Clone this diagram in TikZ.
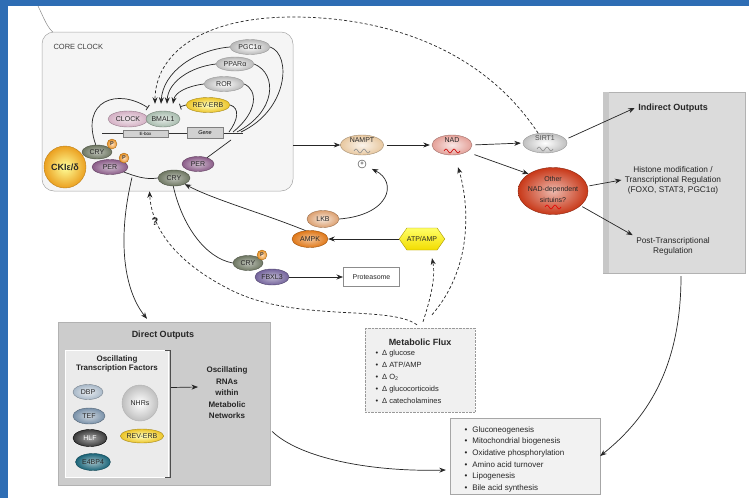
\documentclass[tikz,border=0pt]{standalone}
\usepackage{fontspec}
\setmainfont{Liberation Sans}
\usetikzlibrary{shapes.geometric,shapes.symbols,arrows.meta,calc}
\definecolor{frameblue}{HTML}{2E6DB4}
\definecolor{revy}{HTML}{ECC428}
\definecolor{clk}{HTML}{D4B0C4}
\definecolor{bml}{HTML}{A8BCAE}
\definecolor{cryc}{HTML}{6E7762}
\definecolor{perc}{HTML}{8A5C88}
\definecolor{ckc}{HTML}{EBA020}
\definecolor{pcol}{HTML}{E89020}
\definecolor{namc}{HTML}{E8C8A0}
\definecolor{nadc}{HTML}{E4A098}
\definecolor{othc}{HTML}{C83818}
\definecolor{lkbc}{HTML}{DCA070}
\definecolor{ampc}{HTML}{E07818}
\definecolor{atpc}{HTML}{F2DC00}
\definecolor{fbxc}{HTML}{74649C}
\definecolor{dbpc}{HTML}{A8B8C8}
\definecolor{tefc}{HTML}{7890A8}
\definecolor{hlfc}{HTML}{3A3A3A}
\definecolor{e4c}{HTML}{1A6478}
\begin{document}
\begin{tikzpicture}[x=1pt,y=-1pt,
  ov/.style={ellipse, inner sep=0pt, line width=0.4pt, font=\fontsize{7}{7.5}\selectfont, text=black!85},
  gry/.style={inner color=white, outer color=black!28, draw=black!40},
  arr/.style={line width=0.7pt, draw=black!85, -{Stealth[length=6.5pt,width=5pt]}},
  darr/.style={arr, dash pattern=on 3pt off 2.2pt},
  plainln/.style={line width=0.7pt, draw=black!85},
  tee/.style={line width=0.7pt, draw=black!85, -{Bar[width=6pt,line width=0.8pt]}},
  pcirc/.style={circle, inner sep=0pt, minimum size=10, inner color=orange!25, outer color=pcol, draw=pcol!70!black, line width=0.3pt, font=\fontsize{5.5}{6}\selectfont\bfseries, text=black!75},
  boxtitle/.style={font=\fontsize{9}{10}\selectfont\bfseries, text=black!85},
  boxtext/.style={font=\fontsize{8.3}{10}\selectfont, text=black!85, align=center},
  wavesym/.pic={\draw[line width=0.6pt] (-8,0) sin ++(2,-2) cos ++(2,2) sin ++(2,2) cos ++(2,-2) sin ++(2,-2) cos ++(2,2) sin ++(2,2) cos ++(2,-2);}
]
\useasboundingbox (0,0) rectangle (749,498);
\fill[white] (0,0) rectangle (749,498);
\fill[frameblue] (0,0) rectangle (749,6);
\fill[frameblue] (0,0) rectangle (8,498);
\draw[black!45, line width=0.5pt] (38,6) .. controls (44,18) and (47,28) .. (55,34);

% ---------- boxes
\node[draw=black!35, fill=black!4, rounded corners=12pt, minimum width=251, minimum height=159, line width=0.5pt] (core) at (167.5,111.5) {};
\node[anchor=west, font=\fontsize{7.5}{8}\selectfont, text=black!75] (cctitle) at (50,47) {CORE CLOCK};

\node[fill=black!14, draw=black!30, minimum width=142, minimum height=181] (ind) at (674,182.5) {};
\fill[black!22] (ind.north west) rectangle ($(ind.south west)+(6,0)$);
\node[boxtitle] (indt) at (673,108) {Indirect Outputs};
\node[boxtext] (hist) at (673,180) {Histone modification /\\Transcriptional Regulation\\(FOXO, STAT3, PGC1α)};
\node[boxtext] (post) at (673,246) {Post-Transcriptional\\Regulation};

\node[fill=black!20, draw=black!30, minimum width=212, minimum height=163] (dout) at (164,403.5) {};
\node[boxtitle] (dtitle) at (163,335) {Direct Outputs};
\node[fill=black!8, draw=white, minimum width=103, minimum height=127] (inner) at (116.5,413.5) {};
\draw[black!70, line width=0.6pt] (165,350) -- (170,350) -- (170,477) -- (165,477);
\node[font=\fontsize{8}{9.5}\selectfont\bfseries, text=black!85, align=center] (otf) at (117,364) {Oscillating\\Transcription Factors};
\node[font=\fontsize{8}{11.5}\selectfont\bfseries, text=black!85, align=center] (rna) at (227,393) {Oscillating\\RNAs\\within\\Metabolic\\Networks};

\node[fill=black!6, draw=black!40, densely dotted, minimum width=110, minimum height=84] (flux) at (420,370) {};
\node[boxtitle] (fluxt) at (420,342) {Metabolic Flux};
\node[anchor=north west, font=\fontsize{7.5}{11.8}\selectfont, text=black!85, align=left] (fluxl) at (372,347) {•\hspace{4pt}Δ glucose\\•\hspace{4pt}Δ ATP/AMP\\•\hspace{4pt}Δ O\textsubscript{2}\\•\hspace{4pt}Δ glucocorticoids\\•\hspace{4pt}Δ catecholamines};

\node[fill=black!5, draw=black!35, minimum width=150, minimum height=76] (bot) at (525,456) {};
\node[anchor=north west, font=\fontsize{8}{11.6}\selectfont, text=black!85, align=left] (botl) at (461,423) {•\hspace{5pt}Gluconeogenesis\\•\hspace{5pt}Mitochondrial biogenesis\\•\hspace{5pt}Oxidative phosphorylation\\•\hspace{5pt}Amino acid turnover\\•\hspace{5pt}Lipogenesis\\•\hspace{5pt}Bile acid synthesis};

% ---------- core clock nodes
\node[ov, gry, minimum width=40, minimum height=15] (pgc) at (250,47) {PGC1α};
\node[ov, gry, minimum width=38, minimum height=14] (ppar) at (235,64) {PPARα};
\node[ov, gry, minimum width=40, minimum height=15] (ror) at (224,84) {ROR};
\node[ov, inner color=yellow!25, outer color=revy, draw=revy!70!black, minimum width=44, minimum height=15] (rev) at (208,105) {REV-ERB};
\node[ov, inner color=clk!30, outer color=clk, draw=clk!70!black, minimum width=40, minimum height=16] (clock) at (128,119) {CLOCK};
\node[ov, inner color=bml!30, outer color=bml, draw=bml!70!black, minimum width=34, minimum height=16] (bmal) at (163,119) {BMAL1};
\coordinate (dnaL) at (102,133);
\coordinate (dnaR) at (243,133);
\draw[line width=0.7pt, black!80] (dnaL) -- (dnaR);
\node[draw=black!50, fill=black!18, minimum width=45, minimum height=7, inner sep=0pt, font=\fontsize{4.5}{5}\selectfont] (ebox) at (145.5,133.5) {E-box};
\node[draw=black!50, fill=black!18, minimum width=36, minimum height=11, inner sep=0pt, font=\fontsize{5.5}{6}\selectfont\itshape] (gene) at (205,132.5) {Gene};

\node[circle, inner sep=0pt, minimum size=42, inner color=yellow!40, outer color=ckc, draw=ckc!80!black, line width=0.4pt, font=\fontsize{9}{10}\selectfont\bfseries, text=black!85] (cki) at (65,167) {CKIε/δ};
\node[ov, inner color=cryc!45, outer color=cryc, draw=cryc!70!black, minimum width=30, minimum height=14] (cry1) at (97,152) {CRY};
\node[ov, inner color=perc!40, outer color=perc, draw=perc!70!black, minimum width=36, minimum height=15] (per1) at (110,167) {PER};
\node[pcirc] (p1) at (112,144) {P};
\node[pcirc] (p2) at (124,158) {P};
\node[ov, inner color=perc!40, outer color=perc, draw=perc!70!black, minimum width=32, minimum height=15] (per2) at (198,164) {PER};
\node[ov, inner color=cryc!45, outer color=cryc, draw=cryc!70!black, minimum width=32, minimum height=16] (cry2) at (174,178) {CRY};

% core clock connectors
\coordinate (g1) at (241,132);
\coordinate (g2) at (237,132);
\coordinate (g3) at (233,132);
\coordinate (g4) at (229,132);
\draw[plainln] (g1) .. controls (288,110) and (292,55) .. (pgc.east);
\draw[plainln] (g2) .. controls (276,112) and (278,74) .. (ppar.east);
\draw[plainln] (g3) .. controls (258,112) and (258,90) .. (ror.east);
\draw[plainln] (g4) .. controls (238,120) and (240,108) .. (rev.east);
\draw[arr] (pgc.west) .. controls (195,50) and (163,72) .. ($(bmal.north)+(-2,-7)$);
\draw[arr] (ppar.west) .. controls (190,67) and (168,82) .. ($(bmal.north)+(4,-7)$);
\draw[arr] (ror.west) .. controls (188,86) and (175,92) .. ($(bmal.north)+(10,-7)$);
\draw[tee] (rev.west) -- ($(bmal.north)+(17,-4)$);
\draw[tee] (cry1.100) .. controls (80,100) and (118,88) .. ($(bmal.north)+(-15,-3)$);
\coordinate (gout) at (231,140);
\draw[plainln] (gout) -- (per2.35);
\draw[plainln] (per1.-20) .. controls (135,176) and (145,180) .. (cry2.west);
\coordinate (pcj) at (132,177.5);

% ---------- middle nodes
\node[ov, inner color=namc!20, outer color=namc, draw=namc!70!black, minimum width=43, minimum height=20] (nampt) at (362,145) {};
\node[font=\fontsize{7}{7.5}\selectfont, text=black!85] (namptl) at (362,140.5) {NAMPT};
\pic[color=black!45] at (362,151) {wavesym};
\node[circle, draw=black!80, inner sep=0pt, minimum size=8, font=\fontsize{6}{6}\selectfont] (plus) at (362,164) {+};
\node[ov, inner color=nadc!25, outer color=nadc, draw=nadc!70!black, minimum width=40, minimum height=20] (nad) at (452,145) {};
\node[font=\fontsize{7}{7.5}\selectfont, text=black!85] (nadl) at (452,140.5) {NAD};
\pic[color=red!80!black] at (452,151) {wavesym};
\node[ov, inner color=white, outer color=black!25, draw=black!40, minimum width=44, minimum height=20] (sirt) at (545,143) {};
\node[font=\fontsize{7}{7.5}\selectfont, text=black!70] (sirtl) at (545,138.5) {SIRT1};
\pic[color=black!45] at (545,149) {wavesym};
\node[ov, inner color=othc!35, outer color=othc, draw=othc!70!black, minimum width=70, minimum height=47] (oth) at (553,191) {};
\node[font=\fontsize{7}{10.5}\selectfont, text=black!85, align=center] (othl) at (553,189) {Other\\NAD-dependent\\sirtuins?};
\pic[color=red!90!black] at (553,207) {wavesym};

\node[ov, inner color=lkbc!25, outer color=lkbc, draw=lkbc!70!black, minimum width=32, minimum height=17] (lkb) at (323,219) {LKB};
\node[ov, inner color=ampc!45, outer color=ampc, draw=ampc!70!black, minimum width=36, minimum height=17] (ampk) at (310,239) {AMPK};
\node[signal, signal to=west and east, signal pointer angle=110, inner sep=0pt, minimum width=40, minimum height=22, top color=yellow!60, bottom color=atpc, draw=atpc!70!black, line width=0.4pt, font=\fontsize{7}{7.5}\selectfont, text=black!85] (atp) at (422,239) {ATP/AMP};
\node[ov, inner color=cryc!45, outer color=cryc, draw=cryc!70!black, minimum width=30, minimum height=15] (cry3) at (248,263) {CRY};
\node[pcirc] (p3) at (262,255) {P};
\node[ov, inner color=fbxc!45, outer color=fbxc, draw=fbxc!70!black, minimum width=34, minimum height=16] (fbx) at (272,277) {FBXL3};
\node[draw=black!45, fill=white, line width=1pt, minimum width=56, minimum height=19, font=\fontsize{7}{8}\selectfont, text=black!85] (prot) at (371.5,277) {Proteasome};
\node[font=\fontsize{11}{12}\selectfont\bfseries, text=black!85] (qm) at (155,222) {?};

% ---------- direct outputs ovals
\node[ov, inner color=dbpc!25, outer color=dbpc, draw=dbpc!70!black, minimum width=30, minimum height=15] (dbp) at (88,392) {DBP};
\node[ov, inner color=tefc!35, outer color=tefc, draw=tefc!70!black, minimum width=32, minimum height=16] (tef) at (89,416) {TEF};
\node[ov, inner color=hlfc!45, outer color=hlfc, draw=black, minimum width=34, minimum height=17, text=white] (hlf) at (90,438) {HLF};
\node[ov, inner color=e4c!40, outer color=e4c, draw=e4c!70!black, minimum width=35, minimum height=17] (e4) at (93,462) {E4BP4};
\node[circle, inner sep=0pt, minimum size=36, inner color=white, outer color=black!25, draw=black!30, font=\fontsize{7}{7.5}\selectfont, text=black!85] (nhr) at (140,403) {NHRs};
\node[ov, inner color=yellow!25, outer color=revy, draw=revy!70!black, minimum width=40, minimum height=14] (rev2) at (142,436) {REV-ERB};

% ---------- connectors
\draw[arr] (core.east |- nampt.west) -- (nampt.west);
\draw[arr, shorten <=3pt, shorten >=2pt] (nampt.east) -- (nad.west);
\draw[arr, shorten <=3pt, shorten >=2pt] (nad.east) -- (sirt.west);
\draw[arr, shorten <=8pt] (nad.-25) -- (oth.145);
\draw[arr, shorten <=3pt] (sirt.10) -- (indt.west);
\draw[arr, shorten <=2pt] (oth.8) -- (hist.west);
\draw[arr, shorten <=2pt] (oth.-28) -- (post.165);
\draw[arr] ($(ind.south)+(7,3)$) .. controls (681,370) and (645,420) .. (bot.east);
\draw[arr] ($(dout.east)+(2,28)$) .. controls (300,458) and (370,472) .. ($(bot.west)+(-4,14)$);
\draw[arr] ($(inner.east)+(3,-26)$) -- ($(rna.west)+(-5,-6)$);
\draw[arr] (pcj) .. controls (117,240) and (124,290) .. ($(dout.north)+(-17,-3)$);
\draw[darr] (sirt.125) .. controls (480,45) and (380,17) .. (293,17) .. controls (200,17) and (155,55) .. ($(bmal.north)+(-8,-7)$);
\draw[arr, shorten >=11pt] (lkb.east) .. controls (390,215) and (398,182) .. (plus.center);
\draw[arr] (ampk.118) .. controls (262,213) and (215,200) .. (cry2.-30);
\draw[plainln] (cry2.-95) .. controls (182,225) and (205,258) .. (cry3.west);
\draw[arr] (fbx.east) -- (prot.west);
\draw[arr] (atp.west) -- (ampk.east);
\draw[darr] ($(flux.north)+(-3,-3)$) .. controls (390,305) and (300,322) .. (235,292) .. controls (185,268) and (152,235) .. ($(core.south)+(-18,0)$);
\draw[darr] ($(flux.north)+(3,-6)$) .. controls (430,300) and (436,278) .. ($(atp.south)+(10,8)$);
\draw[darr] ($(flux.north)+(12,-13)$) .. controls (475,265) and (468,200) .. ($(nad.south)+(6,12)$);
\end{tikzpicture}
\end{document}
